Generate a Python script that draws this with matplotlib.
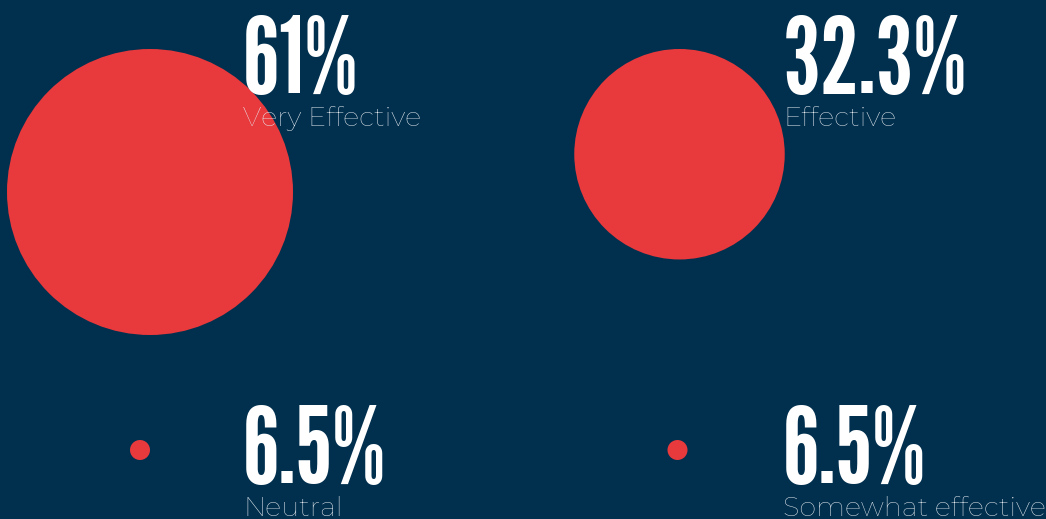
import numpy as np
import matplotlib
matplotlib.use("Agg")
import matplotlib.pyplot as plt
from matplotlib.patches import Circle

# ---- data ----
categories = ["Very Effective", "Effective", "Neutral", "Somewhat effective"]
values = [61, 32.3, 6.5, 6.5]
value_labels = ["61%", "32.3%", "6.5%", "6.5%"]

# ---- style / layout ----
BG = "#01304f"
RED = "#e8393c"
LABEL_COLOR = "#e6ebf0"
W, H = 1046, 519
R_MIN, R_MAX = 10, 143

# cell layout (pixels): circle centre x, circle top y, text x, number baseline, label baseline
cells = [
    dict(cx=150, top=49, tx=243, nb=93, lb=126),
    dict(cx=679.5, top=49, tx=783, nb=93, lb=126),
    dict(cx=140, top=440, tx=243, nb=483, lb=516),
    dict(cx=677.5, top=440, tx=783, nb=483, lb=516),
]

def radius(v):
    lo, hi = np.log(min(values)), np.log(max(values))
    return R_MIN + (np.log(v) - lo) / (hi - lo) * (R_MAX - R_MIN)

fig = plt.figure(figsize=(W / 100, H / 100), dpi=100)
fig.patch.set_facecolor(BG)
ax = fig.add_axes([0, 0, 1, 1])
ax.set_facecolor(BG)
ax.set_xlim(0, W)
ax.set_ylim(H, 0)
ax.set_aspect("equal")
ax.axis("off")

num_font = ["League Gothic", "DejaVu Sans"]
lab_font = ["Montserrat", "DejaVu Sans"]

for cat, v, vl, c in zip(categories, values, value_labels, cells):
    r = radius(v)
    ax.add_patch(Circle((c["cx"], c["top"] + r), r, facecolor=RED, edgecolor="none", zorder=1))
    ax.text(c["tx"], c["nb"], vl, family=num_font, fontsize=77,
            color="white", ha="left", va="baseline", zorder=3)
    ax.text(c["tx"], c["lb"], cat, family=lab_font, fontweight="light", fontsize=19.5,
            color=LABEL_COLOR, ha="left", va="baseline", zorder=3)

fig.savefig("out.png", dpi=100, facecolor=BG)
